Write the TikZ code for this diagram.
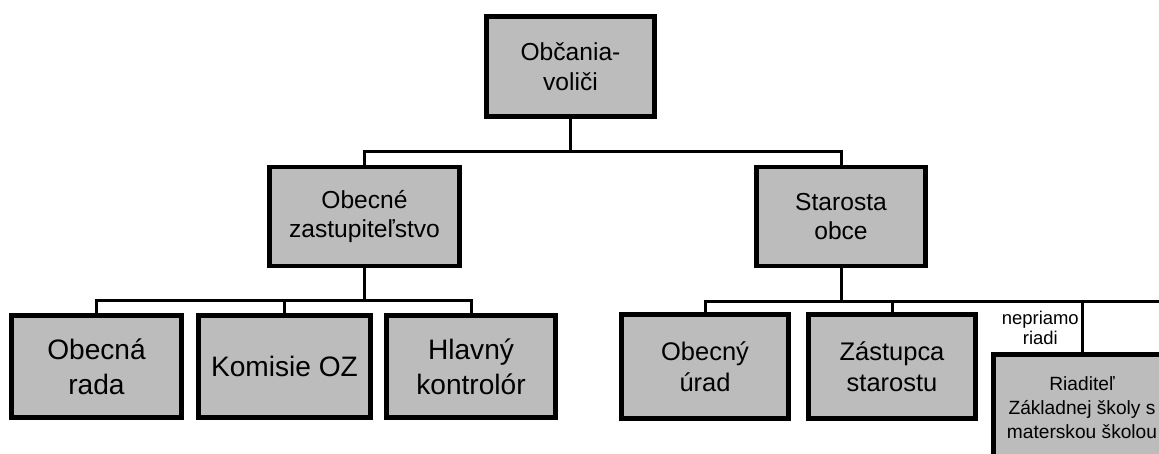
\documentclass[tikz,border=0pt]{standalone}
\usepackage{fontspec}
\setmainfont{Liberation Sans}
\usepackage{tikz}
\definecolor{boxGray}{HTML}{BCBCBC}
\tikzstyle{unitbox} = [rectangle, draw=black, fill=boxGray, line width=2.4pt,%
text centered, align=center, inner sep=2pt]
\tikzstyle{midbox} = [unitbox, minimum height=1.98cm,%
font=\fontsize{14}{17}\selectfont]
\tikzstyle{lowbox} = [unitbox, minimum height=2.04cm,%
font=\fontsize{16}{20}\selectfont]
\tikzstyle{officebox} = [unitbox, minimum height=2.08cm,%
font=\fontsize{14.5}{17.5}\selectfont]
\tikzstyle{schoolbox} = [unitbox, minimum height=2.12cm,%
font=\fontsize{10.9}{13.8}\selectfont]
\tikzstyle{line} = [line width=1.7pt]

\begin{document}
\begin{tikzpicture}[node distance=3cm]
    \useasboundingbox (0,0) rectangle (23.18,-9.06);
    \clip (0,0) rectangle (23.18,-9.06);
    \coordinate (edgeR) at (23.18,0);

    \node (voters) [midbox, minimum width=3.36cm, minimum height=2.0cm] at (11.41,-1.33) {Občania-\\voliči};
    \node (council) [midbox, below of=voters, xshift=-4.12cm, minimum width=3.8cm] {Obecné\\zastupiteľstvo};
    \node (mayor) [midbox, below of=voters, xshift=5.41cm, minimum width=3.38cm] {Starosta\\obce};

    \node (board) [lowbox, below of=council, xshift=-5.36cm, minimum width=3.4cm] {Obecná\\rada};
    \node (commissions) [lowbox, below of=council, xshift=-1.6cm, minimum width=3.44cm] {Komisie OZ};
    \node (controller) [lowbox, below of=council, xshift=2.13cm, minimum width=3.38cm] {Hlavný\\kontrolór};

    \node (office) [officebox, below of=mayor, xshift=-2.72cm, minimum width=3.34cm] {Obecný\\úrad};
    \node (deputy) [officebox, below of=mayor, xshift=1.02cm, minimum width=3.34cm] {Zástupca\\starostu};
    \node (school) [schoolbox, below of=mayor, xshift=4.82cm, yshift=-0.82cm, minimum width=3.54cm]%
      {Riaditeľ\\Základnej školy s\\materskou školou};

    \draw [line] (voters.south) -- ++(0,-0.66) coordinate (topBus);
    \draw [line] (topBus) -| (council);
    \draw [line] (topBus) -| (mayor);

    \draw [line] (council.south) -- ++(0,-0.65) coordinate (leftBus);
    \draw [line] (leftBus) -| (board);
    \draw [line] (leftBus) -| (commissions);
    \draw [line] (leftBus) -| (controller);

    \draw [line] (mayor.south) -- ++(0,-0.67) coordinate (rightBus);
    \draw [line] (rightBus) -| (office);
    \draw [line] (rightBus) -| (deputy);
    \draw [line] (rightBus) -| node[pos=0.76, anchor=east, inner sep=1pt, align=center,%
      font=\fontsize{10.5}{11.3}\selectfont] {nepriamo\\riadi} (school);
    \draw [line] (rightBus) -- (rightBus -| edgeR);
  \end{tikzpicture}
\end{document}
